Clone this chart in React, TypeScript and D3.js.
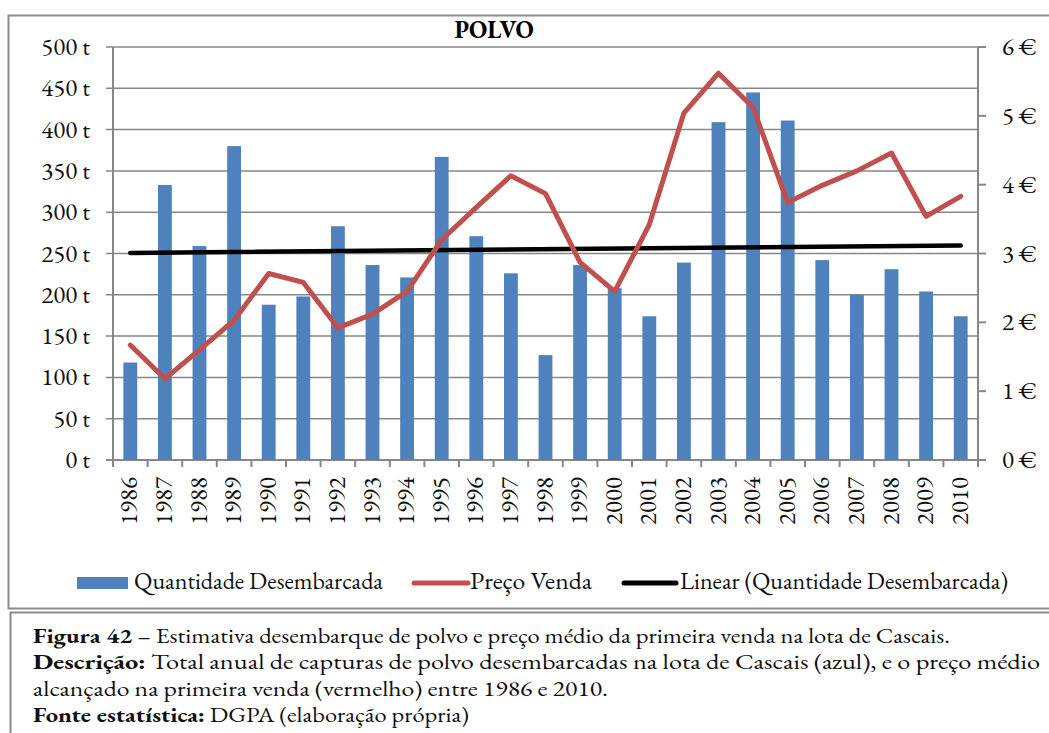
import React from "react"
import * as d3 from "d3"

const years = ["1986","1987","1988","1989","1990","1991","1992","1993","1994","1995","1996","1997","1998","1999","2000","2001","2002","2003","2004","2005","2006","2007","2008","2009","2010"]
// toneladas desembarcadas
const quantidade = [118,333,259,380,188,198,283,236,221,367,271,226,127,236,208,174,239,409,445,411,242,200,231,204,174]
// preço médio de primeira venda (€)
const preco = [1.67,1.18,1.6,2.03,2.71,2.58,1.92,2.12,2.45,3.2,3.67,4.13,3.87,2.87,2.45,3.42,5.04,5.62,5.12,3.74,3.99,4.2,4.46,3.54,3.83]
const leftTicks = [0,50,100,150,200,250,300,350,400,450,500]
const rightTicks = [0,1,2,3,4,5,6]
const legendItems = ["Quantidade Desembarcada", "Preço Venda", "Linear (Quantidade Desembarcada)"]

const serif = "EB Garamond, Liberation Serif, serif"
const sty = (size: number, bold = false) => ({
  fontFamily: serif, fontSize: size, fontWeight: bold ? "bold" : "normal", fontVariantNumeric: "lining-nums"
})

export default function App() {
  const W = 1049, H = 733
  const left = 113, right = 978, top = 47, bottom = 460

  const x = d3.scaleBand().domain(years).range([left, right])
  const y = d3.scaleLinear().domain([0, 500]).range([bottom, top])
  const y2 = d3.scaleLinear().domain([0, 6]).range([bottom, top])
  const barW = x.bandwidth() * 0.4
  const cx = (yr: string) => (x(yr) as number) + x.bandwidth() / 2

  // linha de tendência (regressão linear das quantidades)
  const idx = quantidade.map((d, i) => i)
  const mx = d3.mean(idx) as number
  const my = d3.mean(quantidade) as number
  const slope = d3.sum(idx, i => (i - mx) * (quantidade[i] - my)) / d3.sum(idx, i => (i - mx) * (i - mx))
  const trend = (i: number) => my + slope * (i - mx)

  const priceLine = d3.line<number>()
    .x((d, i) => cx(years[i]))
    .y(d => y2(d))

  const grid = "#878787"

  return (
    <svg width={W} height={H} style={{ position: "absolute", left: 0, top: 0, background: "#fff" }}>
      {/* caixa do gráfico */}
      <rect x={8.5} y={15.5} width={1060} height={593} fill="none" stroke="#8c8c8c" strokeWidth={2} />
      <rect x={10.5} y={612.5} width={1060} height={140} fill="none" stroke="#8c8c8c" strokeWidth={2} />

      <text x={494} y={38} textAnchor="middle" style={sty(24, true)}>POLVO</text>

      {/* grelha */}
      {leftTicks.map(t => (
        <g key={t}>
          <line x1={left - 7} x2={right} y1={y(t)} y2={y(t)} stroke={grid} strokeWidth={t === 0 ? 2 : 1.5} />
          <text x={90} y={y(t) + 8} textAnchor="end" style={sty(25)} fill="#111">{t} t</text>
        </g>
      ))}
      {rightTicks.map(t => (
        <g key={t}>
          <line x1={right} x2={right + 8} y1={y2(t)} y2={y2(t)} stroke={grid} strokeWidth={2} />
          <text x={1002} y={y2(t) + 8} style={sty(25)} fill="#111">{t} €</text>
        </g>
      ))}
      <line x1={left} x2={left} y1={top} y2={bottom} stroke={grid} strokeWidth={2} />
      <line x1={right} x2={right} y1={top} y2={bottom} stroke={grid} strokeWidth={2} />

      {/* marcas do eixo x */}
      {years.concat(["end"]).map((yr, i) => {
        const px = left + i * x.bandwidth()
        return <line key={yr} x1={px} x2={px} y1={bottom} y2={bottom + 7} stroke={grid} strokeWidth={2} />
      })}

      {/* barras */}
      {quantidade.map((d, i) => (
        <rect key={years[i]} x={cx(years[i]) - barW / 2} y={y(d)} width={barW} height={bottom - y(d)} fill="#4F81BD" />
      ))}

      {/* tendência */}
      <line x1={cx(years[0])} x2={cx(years[years.length - 1])} y1={y(trend(0))} y2={y(trend(years.length - 1))}
        stroke="#000" strokeWidth={4.5} strokeLinecap="round" />

      {/* preço */}
      <path d={priceLine(preco) || ""} fill="none" stroke="#C0504D" strokeWidth={5} strokeLinejoin="round" strokeLinecap="round" />

      {/* anos */}
      {years.map(yr => (
        <text key={yr} transform={`translate(${cx(yr) + 7},${477}) rotate(-90)`} textAnchor="end"
          textLength={48} lengthAdjust="spacingAndGlyphs" style={sty(25)} fill="#111">{yr}</text>
      ))}

      {/* legenda */}
      <rect x={77} y={577} width={51} height={12} fill="#4F81BD" />
      <text x={134} y={589} textLength={249} lengthAdjust="spacingAndGlyphs" style={sty(24)} fill="#111">{legendItems[0]}</text>
      <line x1={414} x2={468} y1={583} y2={583} stroke="#C0504D" strokeWidth={5} strokeLinecap="round" />
      <text x={470} y={589} textLength={122} lengthAdjust="spacingAndGlyphs" style={sty(24)} fill="#111">{legendItems[1]}</text>
      <line x1={624} x2={676} y1={583} y2={583} stroke="#000" strokeWidth={5} strokeLinecap="round" />
      <text x={680} y={589} textLength={328} lengthAdjust="spacingAndGlyphs" style={sty(24)} fill="#111">{legendItems[2]}</text>

      {/* legenda da figura */}
      <g fill="#111">
        <text x={33} y={643} textLength={917} lengthAdjust="spacingAndGlyphs" style={sty(21)}>
          <tspan fontWeight="bold">Figura 42</tspan> – Estimativa desembarque de polvo e preço médio da primeira venda na lota de Cascais.
        </text>
        <text x={33} y={669} textLength={1007} lengthAdjust="spacingAndGlyphs" style={sty(21)}>
          <tspan fontWeight="bold">Descrição:</tspan> Total anual de capturas de polvo desembarcadas na lota de Cascais (azul), e o preço médio
        </text>
        <text x={33} y={696} textLength={575} lengthAdjust="spacingAndGlyphs" style={sty(21)}>
          alcançado na primeira venda (vermelho) entre 1986 e 2010.
        </text>
        <text x={33} y={722} textLength={436} lengthAdjust="spacingAndGlyphs" style={sty(21)}>
          <tspan fontWeight="bold">Fonte estatística:</tspan> DGPA (elaboração própria)
        </text>
      </g>
    </svg>
  )
}
